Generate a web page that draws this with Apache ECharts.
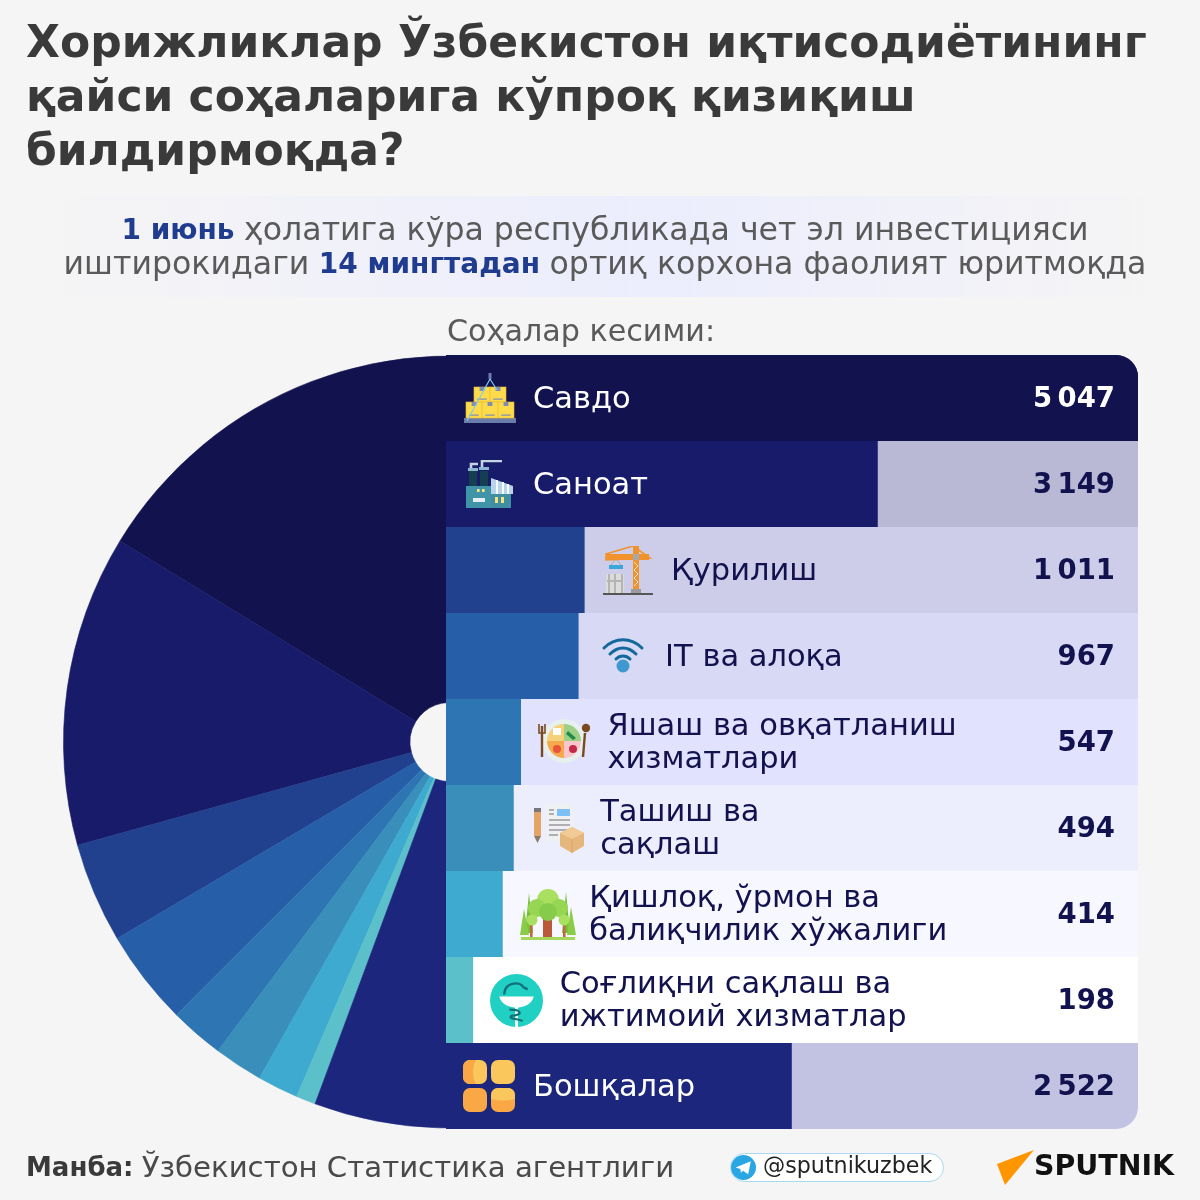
<!DOCTYPE html>
<html><head><meta charset="utf-8">
<style>html,body{margin:0;padding:0;background:#f5f5f5}#c{width:1200px;height:1200px}</style>
<script src="https://cdn.jsdelivr.net/npm/echarts@6/dist/echarts.min.js"></script>
</head><body><div id="c"></div>
<script>
const categories = ['Савдо','Саноат','Қурилиш','IT ва алоқа','Яшаш ва овқатланиш\nхизматлари','Ташиш ва\nсақлаш','Қишлоқ, ўрмон ва\nбалиқчилик хўжалиги','Соғлиқни сақлаш ва\nижтимоий хизматлар','Бошқалар'];
const values = [5047,3149,1011,967,547,494,414,198,2522];
const valueLabels = ['5\u2009047','3\u2009149','1\u2009011','967','547','494','414','198','2\u2009522'];
const barColors = ['#12124f','#171b69','#21418f','#265ea7','#2d76b3','#398fb9','#3eaad0','#5cc0cb','#1c267c'];
const rowColors = ['#12124f','#b9b9d6','#cdcde9','#d8d9f5','#e1e2fd','#ecedfd','#f6f7ff','#ffffff','#c2c3e2'];
const FONT = 'DejaVu Sans';
const NAVY = '#12124f';
const maxValue = Math.max(...values);

function svg(w,h,body){return 'data:image/svg+xml;charset=utf-8,'+encodeURIComponent(`<svg xmlns="http://www.w3.org/2000/svg" width="${w*3}" height="${h*3}" viewBox="0 0 ${w} ${h}">${body}</svg>`);}
const box=(x,y,w,h)=>`<rect x="${x}" y="${y}" width="${w}" height="${h}" fill="#fedb4b" stroke="#e9bd2f" stroke-width=".6"/><rect x="${x+w*.35}" y="${y}" width="${w*.3}" height="4" fill="#7d8db5"/><rect x="${x+w*.2}" y="${y+h-3.5}" width="${w*.6}" height="1.2" fill="#7d8db5"/>`;
const icons = {
 trade: svg(52,52,`<rect x="0" y="45" width="52" height="5" fill="#6b7cab"/>${box(10,14,16,15)}${box(26,14,16,15)}${box(2,29,16,16)}${box(18,29,16,16)}${box(34,29,16,16)}<path d="M26 6 L3 48 M26 6 L33 17" stroke="#7ecbee" stroke-width="1.2" fill="none"/><rect x="24.5" y="0" width="3" height="6" fill="#6b7cab"/>`),
 factory: svg(50,50,`<rect x="1" y="26" width="25" height="22" fill="#3f94a8"/><rect x="26" y="34" width="20" height="14" fill="#3f8ea2"/><path d="M26 18 L48 26 L48 34 L26 34Z" fill="#b9d4ea"/><path d="M32 20v14M38 22v12M43 24v10" stroke="#f5fbff" stroke-width="2"/><rect x="4" y="11" width="8" height="15" fill="#143f50"/><rect x="15" y="11" width="8" height="15" fill="#143f50"/><rect x="3" y="8" width="10" height="3" fill="#8fb6d0"/><rect x="14" y="7" width="10" height="3" fill="#8fb6d0"/><path d="M6 8 V4 H13 M17 7 V1 H37" stroke="#c3d3e4" stroke-width="2.6" fill="none"/><rect x="30" y="37" width="3" height="6" fill="#f5e27c"/><rect x="36" y="37" width="3" height="6" fill="#f5e27c"/><rect x="8" y="38" width="12" height="4" fill="#e6eef5"/><rect x="12" y="29" width="2.6" height="3" fill="#f5e27c"/><rect x="17" y="29" width="2.6" height="3" fill="#f5e27c"/>`),
 build: svg(50,52,`<rect x="0" y="47" width="50" height="2" fill="#555"/><path d="M3 28h18v19H3z" fill="#dcdcdc"/><path d="M6 28v19M19 28v19M4 35h16M12 28v19" stroke="#b4b4b4" stroke-width="2"/><rect x="6" y="19" width="14" height="4" fill="#3ba6d8"/><path d="M13 13 L8 19 M13 13 L18 19" stroke="#aaa"/><path d="M3 8 L30 0 L47 12 L3 14Z" fill="none" stroke="#f0932c" stroke-width="1.6"/><rect x="3" y="8" width="43" height="6" fill="#f0932c"/><rect x="30" y="0" width="6" height="44" fill="#f0932c"/><path d="M31 16l4 4-4 4 4 4-4 4 4 4-4 4" stroke="#fde6c4" fill="none"/><rect x="28" y="43" width="10" height="4" fill="#9b9b9b"/><rect x="30" y="8" width="6" height="6" fill="#a8a8a8"/>`),
 wifi: svg(44,36,`<path d="M3 11 C14 0 30 0 41 11" stroke="#13699c" stroke-width="3" fill="none" stroke-linecap="round"/><path d="M9 17 C17 9 27 9 35 17" stroke="#13699c" stroke-width="3" fill="none" stroke-linecap="round"/><path d="M15 22 C19 18 25 18 29 22" stroke="#13699c" stroke-width="3" fill="none" stroke-linecap="round"/><circle cx="22" cy="29" r="6.5" fill="#3f98d0"/>`),
 food: svg(52,44,`<circle cx="26" cy="22" r="22" fill="#e6f0ee"/><path d="M26 22V5A17 17 0 0 0 9 22Z" fill="#f5d179"/><path d="M26 22V5A17 17 0 0 1 43 22Z" fill="#9dd085"/><path d="M26 22H9A17 17 0 0 0 26 39Z" fill="#f6a84e"/><path d="M26 22H43A17 17 0 0 1 26 39Z" fill="#f9c6cc"/><path d="M30 12l8 7-3 2-7-6z" fill="#1f8a4a"/><rect x="15" y="9" width="8" height="7" fill="#fff"/><circle cx="19" cy="30" r="4" fill="#e8563a"/><circle cx="35" cy="30" r="4" fill="#c22a45"/><path d="M4 7v31" stroke="#7a4a1f" stroke-width="2.4"/><path d="M1 5v9h6V5" stroke="#7a4a1f" stroke-width="1.6" fill="none"/><path d="M47 14 L45 38" stroke="#7a4a1f" stroke-width="2.4"/><circle cx="48" cy="9" r="4.2" fill="#7a4a1f"/>`),
 docs: svg(52,50,`<rect x="1" y="7" width="7" height="26" fill="#e2a566"/><rect x="1" y="5" width="7" height="4" fill="#777"/><path d="M1 33h7l-3.5 7z" fill="#8a7a66"/><rect x="13" y="1" width="27" height="37" fill="#eef0f2"/><rect x="24" y="6" width="13" height="7" fill="#7cc0f5"/><path d="M16 7h5M16 11h5M16 17h21M16 22h21M16 27h21M16 32h9" stroke="#9c98a0" stroke-width="1.6"/><path d="M27 30 L39 24 L51 30 V43 L39 50 L27 43Z" fill="#e6b77c"/><path d="M27 30 L39 36 L51 30 L39 24Z" fill="#f1ca95"/><path d="M39 36V50" stroke="#d6a264"/>`),
 forest: svg(56,54,`<path d="M1 50h54v3H1z" fill="#a5d75a"/><path d="M9 6 L13 46H5z" fill="#74bf3d"/><path d="M46 5 L50 46H42z" fill="#74bf3d"/><path d="M4 22 L9 48H0z" fill="#8acb47"/><path d="M51 20 L56 48H47z" fill="#8acb47"/><rect x="23" y="30" width="9" height="20" fill="#bb5a3a"/><rect x="10" y="36" width="2.6" height="14" fill="#c06a45"/><rect x="43" y="36" width="2.6" height="14" fill="#c06a45"/><circle cx="28" cy="13" r="11" fill="#a9e05f"/><circle cx="17" cy="21" r="9" fill="#96d653"/><circle cx="39" cy="21" r="9" fill="#96d653"/><circle cx="28" cy="25" r="9" fill="#86cc4a"/><circle cx="12" cy="33" r="5.5" fill="#a9e05f"/><circle cx="44" cy="33" r="5.5" fill="#a9e05f"/>`),
 health: svg(52,52,`<circle cx="26" cy="26" r="26" fill="#20d0c2"/><path d="M9 22 H43 C41 30 32 33 26 33 C20 33 11 30 9 22Z" fill="#fff"/><path d="M14 20 C14 9 28 6 33 13 L37 15" stroke="#14707a" stroke-width="2.4" fill="none"/><rect x="24.6" y="32" width="2.8" height="20" fill="#fff"/><path d="M19 35 C31 35 33 40 21 41 C17 44 28 44 32 46" stroke="#14707a" stroke-width="2.2" fill="none"/>`),
 other: svg(54,54,`<rect x="0" y="0" width="24" height="24" rx="7" fill="#f9c75c"/><path d="M7 0A7 7 0 0 0 0 7V17A7 7 0 0 0 7 24H13C9 18 9 6 13 0Z" fill="#f9a845"/><rect x="28" y="0" width="24" height="24" rx="7" fill="#f9c75c"/><rect x="0" y="28" width="24" height="24" rx="7" fill="#f9a845"/><rect x="28" y="28" width="24" height="24" rx="7" fill="#f9a845"/><path d="M28 35A7 7 0 0 1 35 28H45A7 7 0 0 1 52 35V39C44 41 36 41 28 39Z" fill="#f9c75c"/>`),
 tg: svg(24,24,`<circle cx="12" cy="12" r="12" fill="#2aa7e2"/><path d="M4.5 12 L19 6 L16.5 18.5 L11.5 15 L9.5 17 L9 13.5Z" fill="#fff"/>`)
};
const img=(image,x,y,width,height)=>({type:'image',z:100,silent:true,style:{image,x,y,width,height}});

const textTitle=(text,left,top,fontSize,extra)=>({text,left,top,textStyle:Object.assign({fontFamily:FONT,fontSize,fontWeight:'normal',color:'#5a5a5a'},extra||{})});

const option = {
 animation:false,
 backgroundColor:'#f5f5f5',
 title:[
  textTitle('Хорижликлар Ўзбекистон иқтисодиётининг\nқайси соҳаларига кўпроқ қизиқиш\nбилдирмоқда?',21,14,44,{fontWeight:'bold',color:'#3a3a3a',lineHeight:54}),
  Object.assign(textTitle('{b|1 июнь} {n|ҳолатига кўра республикада чет эл инвестицияси}\n{n|иштирокидаги} {b|14 мингтадан} {n|ортиқ корхона фаолият юритмоқда}',600,210,30,{lineHeight:34,align:'center',
    rich:{b:{fontFamily:FONT,fontSize:28,fontWeight:'bold',color:'#1f3c8f',lineHeight:34},n:{fontFamily:FONT,fontSize:31.6,color:'#5a5a5a',lineHeight:34}}}),{textAlign:'center'}),
  textTitle('Соҳалар кесими:',442,313,30.2),
  textTitle('{b|Манба:} {n|Ўзбекистон Статистика агентлиги}',21,1150,26,{
    rich:{b:{fontFamily:FONT,fontSize:26,fontWeight:'bold',color:'#3a3a3a'},n:{fontFamily:FONT,fontSize:29.2,color:'#4a4a4a'}}})
 ],
 grid:{left:446,top:355,width:692,height:774,containLabel:false},
 xAxis:{type:'value',min:0,max:maxValue,show:false},
 yAxis:{type:'category',inverse:true,data:categories,show:false},
 series:[
  {type:'pie',z:1,silent:true,center:[449.5,742],radius:[39.5,386],startAngle:73.4,endAngle:287.2,clockwise:false,
   label:{show:false},labelLine:{show:false},emphasis:{disabled:true},
   data:categories.map((name,i)=>({name,value:values[i],itemStyle:{color:barColors[i],borderColor:barColors[i],borderWidth:.6}}))},
  {type:'bar',name:'row',z:2,silent:true,barWidth:'100%',barGap:'-100%',
   data:categories.map((name,i)=>({value:maxValue,itemStyle:{color:rowColors[i],borderRadius:i===0?[0,22,0,0]:(i===8?[0,0,22,0]:0)}}))},
  {type:'bar',name:'value',z:3,silent:true,barWidth:'100%',barGap:'-100%',
   data:categories.map((name,i)=>{const wide=values[i]>2000;return {value:values[i],
     itemStyle:{color:barColors[i],borderRadius:i===0?[0,22,0,0]:0},
     label:{show:true,position:wide?'insideLeft':'right',distance:wide?87:86.5,offset:[0,2],formatter:()=>name,fontFamily:FONT,fontSize:30.5,lineHeight:33,color:wide?'#ffffff':NAVY}};})},
  {type:'bar',name:'valueLabel',z:4,silent:true,barWidth:'100%',barGap:'-100%',
   data:categories.map((name,i)=>({value:maxValue,itemStyle:{color:'transparent'},
     label:{show:true,position:'insideRight',distance:23,offset:[0,2],formatter:()=>valueLabels[i],fontFamily:FONT,fontSize:27.5,fontWeight:'bold',color:i===0?'#ffffff':NAVY}}))}
 ],
 graphic:{elements:[
  {type:'rect',z:0,silent:true,shape:{x:30,y:196,width:1140,height:101},style:{fill:{type:'linear',x:0,y:0,x2:1,y2:0,colorStops:[{offset:0,color:'#f5f5f5'},{offset:.55,color:'#ecedfd'},{offset:1,color:'#f5f5f5'}]}}},
  img(icons.trade,464,373,52,52),
  img(icons.factory,465,460,50,50),
  img(icons.build,603,546,50,52),
  img(icons.wifi,601,637,44,36),
  img(icons.food,538,719,52,44),
  img(icons.docs,533,803,52,50),
  img(icons.forest,520,887,56,54),
  img(icons.health,490,974,53,53),
  img(icons.other,463,1060,54,54),
  {type:'rect',z:100,silent:true,shape:{x:730.5,y:1153.5,width:213,height:28,r:14},style:{fill:'#ffffff',stroke:'#a9d8f0',lineWidth:1}},
  img(icons.tg,731,1155,25,25),
  {type:'text',z:101,silent:true,style:{x:763,y:1167,text:'@sputnikuzbek',fontFamily:FONT,fontSize:22.2,fill:'#222222',verticalAlign:'middle'}},
  {type:'polygon',z:100,silent:true,shape:{points:[[997,1164],[1034,1150],[1005,1185]]},style:{fill:'#ff9600'}},
  {type:'text',z:100,silent:true,style:{x:1034,y:1168,text:'SPUTNIK',fontFamily:FONT,fontSize:28.4,fontWeight:'bold',fill:'#111111',verticalAlign:'middle'}}
 ]}
};
const chart = echarts.init(document.getElementById('c'),null,{width:1200,height:1200,renderer:'canvas'});
chart.setOption(option);
</script></body></html>
